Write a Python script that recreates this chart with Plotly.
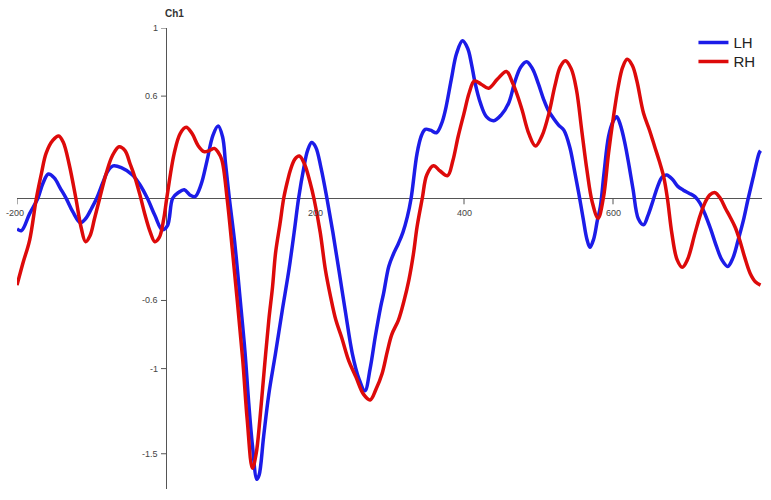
import plotly.graph_objects as go

# ---- data ----
lh_t = [-200, -194, -183, -172, -165, -158, -150, -142, -134, -125, -115, -108, -100, -93, -85, -78, -71, -60,
        -45, -35, -25, -15, -5, 2, 9, 17, 24.5, 32, 39, 47, 55, 63, 70, 76, 80, 85, 92, 100, 106, 111, 116, 122,
        125, 131, 138, 147, 156, 165, 172, 178, 185, 190, 195.5, 201, 208, 216, 224, 232, 241, 250, 259, 267,
        274, 281, 288, 292, 299, 305, 312, 318, 324, 329, 337, 343, 348, 355, 363, 370, 375, 383, 390, 398,
        405, 410, 415, 422, 430, 440, 450, 460, 468, 476, 484, 492, 500, 507, 513, 520, 527, 534, 542, 548,
        554, 560, 565, 569, 574, 579, 583, 588, 594, 600, 605, 610, 616, 622, 627, 634, 641, 647, 654, 660,
        666, 672, 680, 687, 694, 702, 710, 717, 723, 731, 739, 746, 754, 761, 768, 775, 781, 788, 796, 798]
lh_v = [-0.18, -0.19, -0.09, 0.0, 0.09, 0.143, 0.12, 0.06, 0.0, -0.08, -0.143, -0.12, -0.06, 0.0, 0.09, 0.16,
        0.19, 0.18, 0.137, 0.08, 0.0, -0.1, -0.185, -0.16, 0.0, 0.035, 0.05, 0.02, 0.01, 0.08, 0.22, 0.37, 0.424,
        0.36, 0.2, 0.0, -0.25, -0.615, -0.9, -1.2, -1.45, -1.65, -1.625, -1.4, -1.15, -0.91, -0.66, -0.42, -0.2,
        0.0, 0.18, 0.28, 0.327, 0.3, 0.18, 0.0, -0.2, -0.42, -0.67, -0.91, -1.06, -1.13, -1.0, -0.81, -0.64,
        -0.56, -0.40, -0.33, -0.265, -0.2, -0.108, 0.0, 0.264, 0.37, 0.405, 0.4, 0.385, 0.44, 0.518, 0.7, 0.85,
        0.925, 0.88, 0.79, 0.675, 0.56, 0.48, 0.456, 0.49, 0.56, 0.68, 0.77, 0.802, 0.76, 0.67, 0.58, 0.518,
        0.47, 0.43, 0.40, 0.30, 0.17, 0.03, -0.12, -0.24, -0.288, -0.24, -0.13, -0.05, 0.15, 0.362, 0.45, 0.479,
        0.43, 0.323, 0.18, 0.05, -0.12, -0.155, -0.1, -0.01, 0.07, 0.125, 0.137, 0.11, 0.07, 0.049, 0.03, 0.01,
        -0.03, -0.088, -0.18, -0.284, -0.36, -0.4, -0.35, -0.245, -0.13, -0.01, 0.12, 0.264, 0.28]

rh_t = [-200, -192, -183, -174, -167, -161, -152, -144, -138, -130, -121, -114, -108, -102, -96, -89, -80, -72,
        -63, -55, -48, -42, -35, -28, -21, -15, -9, -3, 1, 11, 19, 27, 35, 43, 51, 58, 65, 70, 75, 82, 89, 96,
        103, 109, 116, 121, 126, 132, 138, 143, 147, 153, 158, 163, 167, 173, 179, 186, 193, 199, 207, 214,
        221, 228, 236, 245, 255, 265, 274, 282, 290, 297, 303, 312, 319, 326, 332, 337, 344, 350, 359, 368,
        378, 385, 392, 400, 407, 414, 423, 433, 445, 457, 465, 472, 478, 487, 496, 505, 514, 522, 529, 536,
        544, 551, 558, 565, 572, 580, 587, 594, 600, 607, 613, 619, 626, 632, 641, 649, 656, 662, 668, 673,
        679, 686, 693, 700, 710, 717, 723, 730, 737, 744, 751, 757, 764, 770, 777, 784, 791, 798]
rh_v = [-0.51, -0.38, -0.245, 0.0, 0.15, 0.264, 0.34, 0.366, 0.33, 0.2, 0.0, -0.17, -0.255, -0.22, -0.12, 0.0,
        0.15, 0.25, 0.303, 0.28, 0.2, 0.127, 0.02, -0.1, -0.2, -0.255, -0.23, -0.12, 0.0, 0.264, 0.38, 0.417,
        0.38, 0.31, 0.274, 0.28, 0.293, 0.27, 0.225, 0.0, -0.3, -0.617, -0.95, -1.3, -1.585, -1.5, -1.3, -1.0,
        -0.715, -0.52, -0.323, -0.15, 0.0, 0.1, 0.166, 0.23, 0.248, 0.2, 0.1, -0.01, -0.2, -0.421, -0.58,
        -0.715, -0.82, -0.95, -1.05, -1.15, -1.184, -1.12, -1.03, -0.9, -0.80, -0.715, -0.61, -0.48, -0.33,
        -0.167, 0.0, 0.137, 0.191, 0.16, 0.133, 0.22, 0.36, 0.499, 0.62, 0.689, 0.67, 0.646, 0.7, 0.745, 0.68,
        0.6, 0.518, 0.38, 0.307, 0.37, 0.499, 0.66, 0.77, 0.808, 0.76, 0.636, 0.4, 0.166, -0.02, -0.117, 0.0,
        0.264, 0.46, 0.655, 0.77, 0.816, 0.78, 0.69, 0.499, 0.4, 0.303, 0.22, 0.127, 0.0, -0.206, -0.36,
        -0.405, -0.36, -0.206, -0.1, -0.03, 0.02, 0.033, 0.0, -0.06, -0.108, -0.17, -0.245, -0.35, -0.44,
        -0.49, -0.51]

x_ticks = [-200, 200, 400, 600]
x_tick_labels = ["-200", "200", "400", "600"]
y_ticks = [1, 0.6, -0.6, -1, -1.5]
y_tick_labels = ["1", "0.6", "-0.6", "-1", "-1.5"]

X_RANGE = [-200, 800]
Y_RANGE = [-1.707, 1.0]

FONT = "Liberation Sans, Arial, sans-serif"
AXIS_COLOR = "#555555"
LABEL_COLOR = "#444444"

fig = go.Figure()
fig.add_trace(go.Scatter(x=lh_t, y=lh_v, mode="lines", name="LH", legend="legend",
                         line=dict(color="#1c1ce8", width=3.5, shape="spline", smoothing=1.0)))
fig.add_trace(go.Scatter(x=rh_t, y=rh_v, mode="lines", name="RH", legend="legend2",
                         line=dict(color="#dd0a0a", width=3.5, shape="spline", smoothing=1.0)))

shapes = []
annotations = []
for v, lab in zip(y_ticks, y_tick_labels):
    shapes.append(dict(type="line", xref="x", yref="y", xsizemode="pixel", xanchor=0,
                       x0=-5, x1=0, y0=v, y1=v, line=dict(color=AXIS_COLOR, width=1), layer="below"))
    annotations.append(dict(x=0, y=v, xref="x", yref="y", text=lab, showarrow=False,
                            xanchor="right", yanchor="middle", xshift=-6,
                            font=dict(family=FONT, size=9, color=LABEL_COLOR)))
for v, lab in zip(x_ticks, x_tick_labels):
    shapes.append(dict(type="line", xref="x", yref="y", ysizemode="pixel", yanchor=0,
                       x0=v, x1=v, y0=-6, y1=0, line=dict(color=AXIS_COLOR, width=1), layer="below"))
    annotations.append(dict(x=v, y=0, xref="x", yref="y", text=lab, showarrow=False,
                            xanchor="center", yanchor="top", yshift=-8, xshift=-2 if v == -200 else 0,
                            font=dict(family=FONT, size=9, color=LABEL_COLOR)))

annotations.append(dict(x=0, y=1.031, xref="x", yref="paper", text="<b>Ch1</b>", showarrow=False,
                        xanchor="left", yanchor="middle", xshift=-3,
                        font=dict(family=FONT, size=10, color="#333333")))

legend_style = dict(xanchor="left", yanchor="top", bgcolor="rgba(0,0,0,0)",
                    font=dict(family=FONT, size=15, color="#222222"))

fig.update_layout(
    width=771, height=500,
    margin=dict(l=17, r=9, t=28, b=11),
    paper_bgcolor="white", plot_bgcolor="white",
    xaxis=dict(range=X_RANGE, showgrid=False, showticklabels=False, ticks="", showline=False,
               zeroline=True, zerolinecolor=AXIS_COLOR, zerolinewidth=1),
    yaxis=dict(range=Y_RANGE, showgrid=False, showticklabels=False, ticks="", showline=False,
               zeroline=True, zerolinecolor=AXIS_COLOR, zerolinewidth=1),
    showlegend=True,
    legend=dict(x=0.908, y=1.004, **legend_style),
    legend2=dict(x=0.908, y=1.004 - 19 / 461, **legend_style),
    shapes=shapes, annotations=annotations,
)

fig.write_html("out.html", config={"displayModeBar": False},
               post_script="document.body.style.margin='0';document.body.style.overflow='hidden';")
